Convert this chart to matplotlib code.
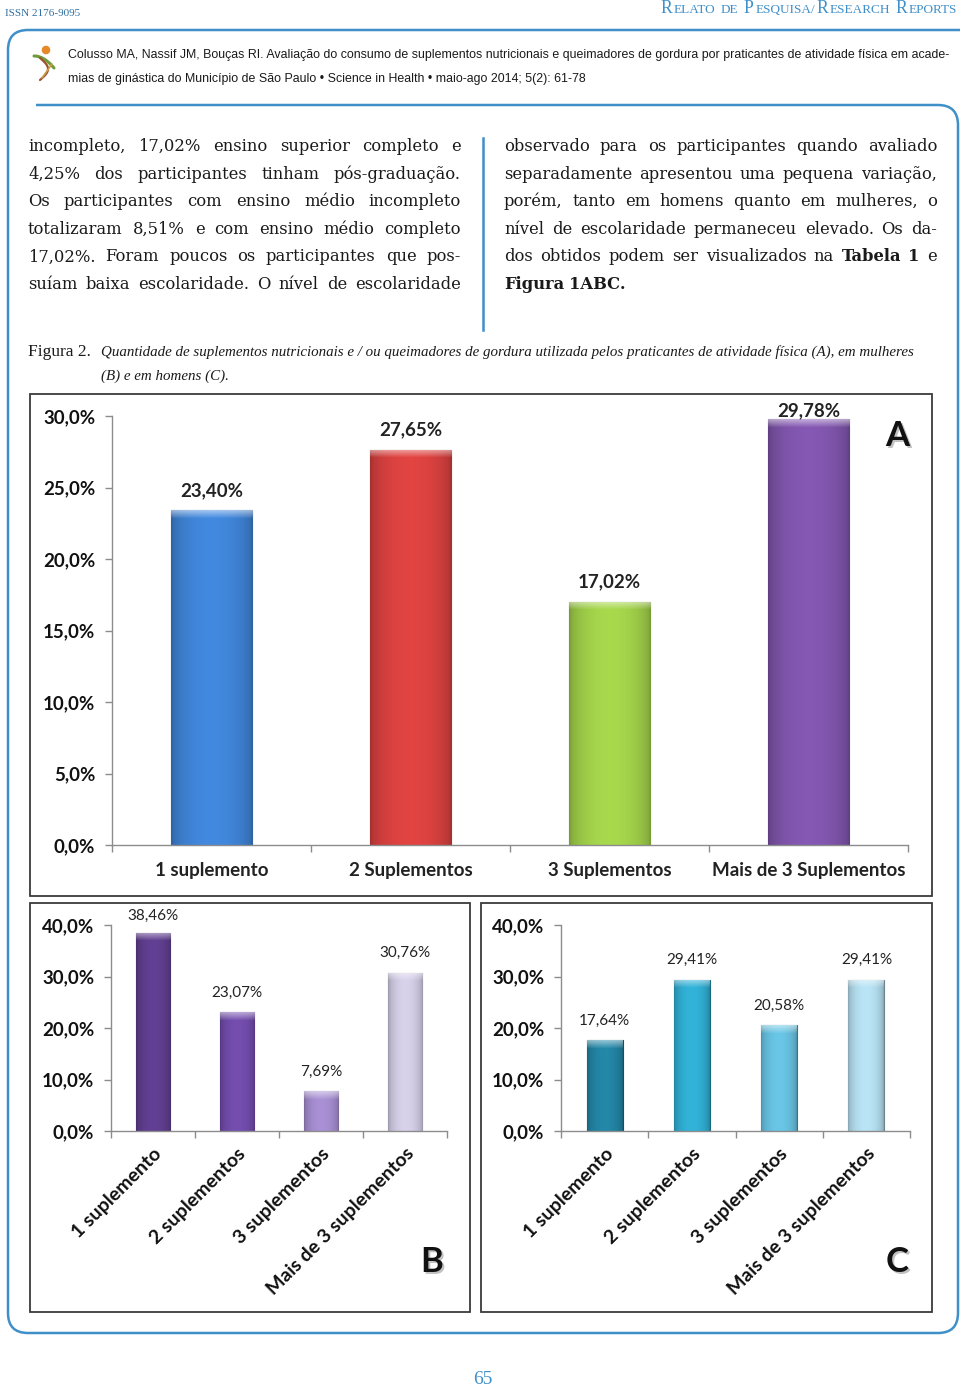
import numpy as np
import matplotlib
matplotlib.use('Agg')
import matplotlib.pyplot as plt
from matplotlib.font_manager import FontProperties
from matplotlib.path import Path
from matplotlib.patches import PathPatch, Rectangle, Circle
from matplotlib.colors import to_rgb

# ---- data ----
cats_a = ['1 suplemento', '2 Suplementos', '3 Suplementos', 'Mais de 3 Suplementos']
vals_a = [23.40, 27.65, 17.02, 29.78]
colors_a = ['#3d7fcf', '#d13f3d', '#9bc947', '#7b52a6']

cats_bc = ['1 suplemento', '2 suplementos', '3 suplementos', 'Mais de 3 suplementos']
vals_b = [38.46, 23.07, 7.69, 30.76]
colors_b = ['#5b3b88', '#6c48a3', '#9d86c6', '#c8c2da']
vals_c = [17.64, 29.41, 20.58, 29.41]
colors_c = ['#217e9c', '#2ea6c9', '#62b8d6', '#acd4e4']

# ---- page text ----
issn = 'ISSN 2176-9095'
section = 'Relato de Pesquisa/Research Reports'
citation = ['Colusso MA, Nassif JM, Bouças RI. Avaliação do consumo de suplementos nutricionais e queimadores de gordura por praticantes de atividade física em acade-',
            'mias de ginástica do Município de São Paulo • Science in Health • maio-ago 2014; 5(2): 61-78']
col_left = ['incompleto, 17,02% ensino superior completo e',
            '4,25% dos participantes tinham pós-graduação.',
            'Os participantes com ensino médio incompleto',
            'totalizaram 8,51% e com ensino médio completo',
            '17,02%. Foram poucos os participantes que pos-',
            'suíam baixa escolaridade. O nível de escolaridade']
col_right = ['observado para os participantes quando avaliado',
             'separadamente apresentou uma pequena variação,',
             'porém, tanto em homens quanto em mulheres, o',
             'nível de escolaridade permaneceu elevado. Os da-',
             'dos obtidos podem ser visualizados na @Tabela @1 e',
             '@Figura @1ABC.']
cap_head = 'Figura 2.'
caption = ['Quantidade de suplementos nutricionais e / ou queimadores de gordura utilizada pelos praticantes de atividade física (A), em mulheres',
           '(B) e em homens (C).']
page_no = '65'

W, H = 960, 1395
BLUE = '#3f8fc9'
INK = '#1a1a1a'
SERIF = ['Liberation Serif', 'DejaVu Serif']
BODY = ['DejaVu Serif']
SANS = ['Lato', 'DejaVu Sans']
NARROW = ['Liberation Sans Narrow', 'Liberation Sans', 'DejaVu Sans']

fig = plt.figure(figsize=(9.6, 13.95), dpi=100)
page = fig.add_axes([0, 0, 1, 1])
page.set_xlim(0, W)
page.set_ylim(H, 0)
page.axis('off')
renderer = fig.canvas.get_renderer()


def width(s, size, family=SERIF, weight='normal', style='normal'):
    fp = FontProperties(family=family, size=size, weight=weight, style=style)
    return renderer.get_text_width_height_descent(s, fp, ismath=False)[0]


def space(size, family=SERIF, weight='normal', style='normal'):
    return width('a a', size, family, weight, style) - width('aa', size, family, weight, style)


def tokens(line):
    return [(w[1:], 'bold') if w.startswith('@') else (w, 'normal') for w in line.split()]


def natural(line, size):
    items = tokens(line)
    return sum(width(s, size, BODY, wt) for s, wt in items) + (len(items) - 1) * space(size, BODY)


def justify(line, x0, x1, y, size, last=False):
    items = tokens(line)
    ws = [width(s, size, BODY, wt) for s, wt in items]
    if last or len(items) == 1:
        gap = space(size, BODY)
    else:
        gap = (x1 - x0 - sum(ws)) / (len(items) - 1)
    x = x0
    for (s, wt), wd in zip(items, ws):
        page.text(x, y, s, fontsize=size, fontweight=wt, family=BODY,
                  ha='left', va='baseline', color=INK)
        x += wd + gap


# ---- frame ----
M, L, C3 = Path.MOVETO, Path.LINETO, Path.CURVE3
verts = [(960, 30), (28, 30), (8, 30), (8, 50), (8, 1313), (8, 1333), (28, 1333),
         (938, 1333), (958, 1333), (958, 1313), (958, 125), (958, 105), (938, 105), (36, 105)]
codes = [M, L, C3, C3, L, C3, C3, L, C3, C3, L, C3, C3, L]
page.add_patch(PathPatch(Path(verts, codes), fill=False, edgecolor=BLUE, lw=1.8))
page.plot([483, 483], [138, 330], color=BLUE, lw=1.8)

# header
page.text(5, 14, issn, fontsize=8, family=SERIF, color='#2f6f9f', va='center')

runs = []
for ch in section:
    big = ch.isupper()
    if ch == ' ':
        runs.append((' ', None))
    elif runs and runs[-1][1] == big:
        runs[-1] = (runs[-1][0] + ch.upper(), big)
    else:
        runs.append((ch.upper(), big))
big_sz, small_sz = 11.0, 8.3
total = sum(space(big_sz, SERIF) if b is None else width(s, big_sz if b else small_sz, SERIF) + 1.2
            for s, b in runs)
k = 298 / total
x = 958 - 298
for s, b in runs:
    if b is None:
        x += space(big_sz * k, SERIF)
        continue
    sz = (big_sz if b else small_sz) * k
    page.text(x, 13, s, fontsize=sz, family=SERIF, color=BLUE, va='baseline')
    x += width(s, sz, SERIF) + 1.2 * k

# logo
page.add_patch(Circle((46, 50), 3.6, color='#e5892a'))
tt = np.linspace(0, 1, 40)
page.plot(34 + 20 * tt, 56 + 12 * tt ** 2, color='#6f9a3a', lw=2.2, solid_capstyle='round')
page.plot(40 + 8 * np.sin(np.pi * tt), 58 + 22 * tt, color='#a0522d', lw=1.6, solid_capstyle='round')
page.plot(52 - 10 * tt, 64 + 14 * tt, color='#c7a04a', lw=1.2, solid_capstyle='round')

cit_sz = 10 * 882 / width(citation[0], 10, NARROW)
page.text(68, 58, citation[0], fontsize=cit_sz, family=NARROW, color=INK, va='baseline')
page.text(68, 82, citation[1], fontsize=cit_sz, family=NARROW, color=INK, va='baseline')

# body text, sized so the widest line just fits the column
justified = col_left + col_right[:-1]
body_sz = min(10 * 433 / natural(ln, 10) for ln in justified) * 0.985
for i, ln in enumerate(col_left):
    justify(ln, 28, 461, 151 + 27.6 * i, body_sz)
for i, ln in enumerate(col_right):
    justify(ln, 504, 937, 151 + 27.6 * i, body_sz, last=(i == len(col_right) - 1))

# caption
page.text(28, 356, cap_head, fontsize=12.5, family=SERIF, color=INK, va='baseline')
cap_sz = 10 * 819 / width(caption[0], 10, SERIF, style='italic')
page.text(101, 356, caption[0], fontsize=cap_sz, family=SERIF, style='italic', color=INK, va='baseline')
page.text(101, 380, caption[1], fontsize=cap_sz, family=SERIF, style='italic', color=INK, va='baseline')

page.text(483, 1380, page_no, fontsize=14, family=SERIF, color=BLUE, ha='center', va='center')

# chart boxes
for x0, y0, x1, y1 in [(30, 394, 932, 896), (30, 903, 470, 1312), (481, 903, 932, 1312)]:
    page.add_patch(Rectangle((x0, y0), x1 - x0, y1 - y0, fill=False, edgecolor='#3a3a3a', lw=1.3))


def dark(c, f=0.62):
    return tuple(np.array(to_rgb(c)) * f)


def shade(ax, bar, color, ppu):
    # glossy look: darker sides, lighter bevel at the top
    x0, w, h = bar.get_x(), bar.get_width(), bar.get_height()
    rows = max(int(h * ppu), 2)
    t = np.linspace(0, 1, 48)
    hprof = 0.78 + 0.30 * np.sin(np.pi * t) ** 0.5
    base = np.array(to_rgb(color))
    img = base[None, None, :] * hprof[None, :, None] * np.ones((rows, 1, 1))
    top = min(9, rows)
    mix = np.zeros(rows)
    mix[:top] = np.linspace(0.5, 0.0, top)
    img = img + (1 - img) * mix[:, None, None]
    im = ax.imshow(np.clip(img, 0, 1), extent=[x0, x0 + w, 0, h], origin='upper',
                   aspect='auto', zorder=2.5, interpolation='bilinear')
    im.set_clip_path(bar)


def chart(px, vals, cats, colors, ymax, step, vsize, vweight, ceil_px, rot):
    l, r, t, b = px
    ax = fig.add_axes([l / W, 1 - b / H, (r - l) / W, (b - t) / H])
    ax.patch.set_alpha(0)
    x = np.arange(len(vals))
    bars = ax.bar(x, vals, width=0.41, color=colors,
                  edgecolor=[dark(c) for c in colors], linewidth=0.8, zorder=2)
    ppu = (b - t) / ymax
    for bar, c in zip(bars, colors):
        shade(ax, bar, c, ppu)
    # labels sit ~19 px over the bar, but never above the chart's ceiling
    cap = (b - ceil_px) / ppu
    for xi, v in zip(x, vals):
        ax.text(xi, min(v + 19.5 / ppu, cap), f'{v:.2f}'.replace('.', ',') + '%',
                ha='center', va='center', fontsize=vsize, fontweight=vweight,
                family=SANS, color='#222222', clip_on=False)
    ax.set_xlim(-0.5, len(vals) - 0.5)
    ax.set_ylim(0, ymax)
    yt = np.arange(0, ymax + 0.01, step)
    ax.set_yticks(yt)
    ax.set_yticklabels([f'{v:.1f}'.replace('.', ',') + '%' for v in yt],
                       fontsize=13.5, fontweight='bold', family=SANS, color='#111111')
    ax.set_xticks(np.arange(len(vals) + 1) - 0.5)
    ax.set_xticklabels([])
    ax.set_xticks(x, minor=True)
    if rot:
        ax.set_xticklabels(cats, minor=True, rotation=45, ha='right', rotation_mode='anchor',
                           fontsize=14, fontweight='bold', family=SANS, color='#111111')
        ax.tick_params(axis='x', which='minor', length=0, pad=10)
    else:
        ax.set_xticklabels(cats, minor=True, fontsize=13.5, fontweight='bold',
                           family=SANS, color='#222222')
        ax.tick_params(axis='x', which='minor', length=0, pad=12)
    ax.tick_params(axis='both', which='major', length=5, color='#8c8c8c', width=1)
    ax.tick_params(axis='y', pad=7)
    for s in ['top', 'right']:
        ax.spines[s].set_visible(False)
    for s in ['left', 'bottom']:
        ax.spines[s].set_color('#8c8c8c')
        ax.spines[s].set_linewidth(1)
    return ax


chart((112, 908, 416, 845), vals_a, cats_a, colors_a, 30, 5, 13.5, 'bold', 411, False)
chart((111, 447, 925, 1131), vals_b, cats_bc, colors_b, 40, 10, 11, 'normal', 916, True)
chart((561, 910, 925, 1131), vals_c, cats_bc, colors_c, 40, 10, 11, 'normal', 916, True)

for tag, tx, ty in [('A', 897, 436), ('B', 432, 1262), ('C', 897, 1262)]:
    page.text(tx + 2, ty + 2, tag, fontsize=25, fontweight='bold', family=SANS,
              color='#9a9a9a', ha='center', va='center', alpha=0.6)
    page.text(tx, ty, tag, fontsize=25, fontweight='bold', family=SANS,
              color='#111111', ha='center', va='center')

fig.savefig('out.png', dpi=100)
